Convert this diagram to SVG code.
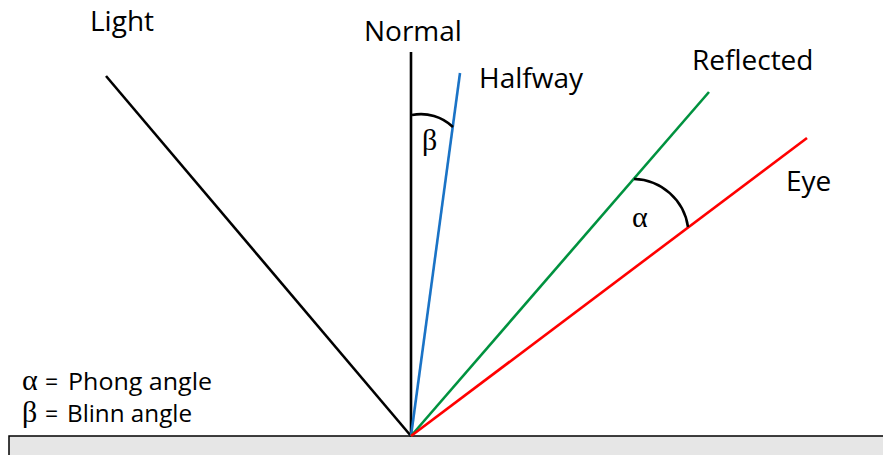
<svg xmlns="http://www.w3.org/2000/svg" width="883" height="455" viewBox="0 0 883 455">
<style>
.lbl{font-family:"Open Sans","Liberation Sans",sans-serif;font-size:28px;fill:#000}
.leg{font-family:"Open Sans","Liberation Sans",sans-serif;font-size:23px;fill:#000}
.gr{font-family:"Liberation Serif","DejaVu Serif",serif;font-size:30px;fill:#000}
.ray{stroke-width:2.6;fill:none;stroke-linecap:butt}
.arc{stroke:#000;stroke-width:2.6;fill:none}
</style>
<rect width="883" height="455" fill="#fff"/>
<g id="surface">
<rect x="9" y="436" width="890" height="40" fill="#e6e6e6" stroke="#000" stroke-width="1.5"/>
</g>
<g id="connectors">
<line class="ray" x1="411" y1="436" x2="106" y2="76" stroke="#000"/>
<line class="ray" x1="411" y1="436" x2="411" y2="52" stroke="#000"/>
<line class="ray" x1="411" y1="436" x2="460" y2="73" stroke="#1a73c6"/>
<line class="ray" x1="411" y1="436" x2="709" y2="92" stroke="#00923f"/>
<line class="ray" x1="411" y1="436" x2="807" y2="138" stroke="#ff0000"/>
</g>
<g id="light"><text class="lbl" x="90" y="31">Light</text></g>
<g id="normal"><text class="lbl" x="364" y="41">Normal</text></g>
<g id="halfway"><text class="lbl" x="479" y="88">Halfway</text></g>
<g id="reflected"><text class="lbl" x="692" y="70">Reflected</text></g>
<g id="eye"><text class="lbl" x="786" y="191">Eye</text></g>
<g id="beta-angle">
<path class="arc" d="M412,115 A46,46 0 0 1 453,127"/>
<text class="gr" x="422" y="150">β</text>
</g>
<g id="alpha-angle">
<path class="arc" d="M634,179 A56,56 0 0 1 688,227"/>
<text class="gr" x="632" y="227">α</text>
</g>
<g id="legend">
<text class="gr" x="22" y="390">α</text>
<text class="leg" x="45" y="390">=</text>
<text class="leg" x="68" y="390" textLength="144" lengthAdjust="spacingAndGlyphs">Phong angle</text>
<text class="gr" x="22" y="422">β</text>
<text class="leg" x="45" y="422">=</text>
<text class="leg" x="67" y="422" textLength="125" lengthAdjust="spacingAndGlyphs">Blinn angle</text>
</g>
</svg>
